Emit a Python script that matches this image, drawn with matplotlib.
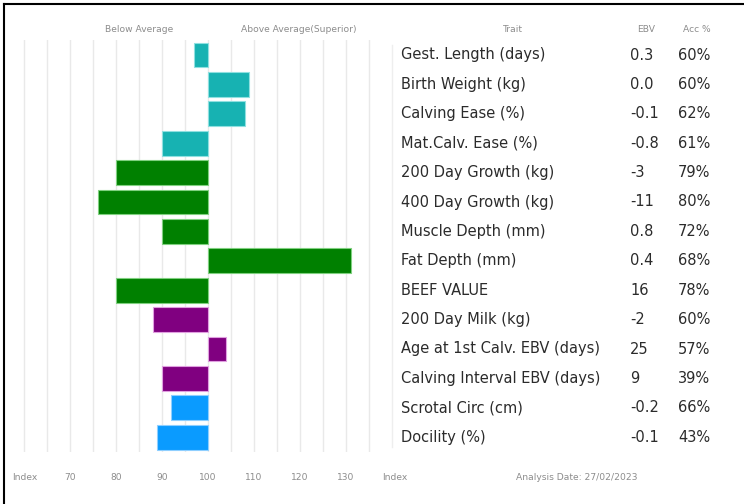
import matplotlib
matplotlib.use("Agg")
import matplotlib.pyplot as plt
from matplotlib.lines import Line2D

traits = ["Gest. Length (days)", "Birth Weight (kg)", "Calving Ease (%)", "Mat.Calv. Ease (%)",
          "200 Day Growth (kg)", "400 Day Growth (kg)", "Muscle Depth (mm)", "Fat Depth (mm)",
          "BEEF VALUE", "200 Day Milk (kg)", "Age at 1st Calv. EBV (days)",
          "Calving Interval EBV (days)", "Scrotal Circ (cm)", "Docility (%)"]
index_values = [97, 109, 108, 90, 80, 76, 90, 131, 80, 88, 104, 90, 92, 89]
ebv = ["0.3", "0.0", "-0.1", "-0.8", "-3", "-11", "0.8", "0.4", "16", "-2", "25", "9", "-0.2", "-0.1"]
acc = ["60%", "60%", "62%", "61%", "79%", "80%", "72%", "68%", "78%", "60%", "57%", "39%", "66%", "43%"]
groups = ["calving"] * 4 + ["growth"] * 5 + ["maternal"] * 3 + ["other"] * 2
group_colors = {"calving": "#17b2b2", "growth": "#008000", "maternal": "#800080", "other": "#0a9bff"}
group_edges = {"calving": "#8fe0e0", "growth": "#7fd07f", "maternal": "#e0a0e0", "other": "#8fcfff"}
tick_values = [70, 80, 90, 100, 110, 120, 130]
grid_values = list(range(60, 140, 5))

W, H = 744, 504
fig = plt.figure(figsize=(W / 100, H / 100), dpi=100)

def fx(x):
    return x / W

def fy(y):
    return 1 - y / H

# axes geometry (pixels)
xmin, xmax = 58, 137
px_per_unit = 4.6
ax_left = 208 - (100 - xmin) * px_per_unit
ax_right = 208 + (xmax - 100) * px_per_unit
row0, pitch = 55, 29.4
n = len(traits)
ax_top = row0 - pitch / 2
ax_bot = row0 + (n - 1) * pitch + pitch / 2

ax = fig.add_axes([fx(ax_left), fy(ax_bot), (ax_right - ax_left) / W, (ax_bot - ax_top) / H])
ax.set_xlim(xmin, xmax)
ax.set_ylim(n - 0.5, -0.5)
for g in grid_values:
    ax.axvline(g, color="#e9e9e9", lw=1, zorder=0)
for i, v in enumerate(index_values):
    ax.barh(i, v - 100, left=100, height=0.85, color=group_colors[groups[i]],
            edgecolor=group_edges[groups[i]], linewidth=0.8, zorder=2)
ax.set_xticks([])
ax.set_yticks([])
for s in ax.spines.values():
    s.set_visible(False)

small = dict(fontsize=6.6, color="#8c8c8c", ha="center", va="center")

# bottom index labels, placed under the data x positions
label_y = 1 - (477 - ax_top) / (ax_bot - ax_top)
for t in tick_values:
    ax.text(t, label_y, str(t), transform=ax.get_xaxis_transform(), **small)

fig.text(fx(25), fy(477), "Index", **small)
fig.text(fx(395), fy(477), "Index", **small)
fig.text(fx(577), fy(477), "Analysis Date: 27/02/2023", **small)
fig.text(fx(139), fy(30), "Below Average", **small)
fig.text(fx(299), fy(30), "Above Average(Superior)", **small)
fig.text(fx(513), fy(29), "Trait", **small)
fig.text(fx(646), fy(29), "EBV", **small)
fig.text(fx(697), fy(29), "Acc %", **small)

big = dict(fontsize=10.5, color="#2b2b2b", ha="left", va="center")
for i in range(n):
    y = row0 + i * pitch
    fig.text(fx(401), fy(y), traits[i], **big)
    fig.text(fx(630), fy(y), ebv[i], **big)
    fig.text(fx(678), fy(y), acc[i], **big)

# faint separator line
fig.add_artist(Line2D([fx(392), fx(392)], [fy(45), fy(447)], color="#eeeeee", lw=1))
# frame lines (top and left)
fig.add_artist(Line2D([fx(4), fx(W)], [fy(3.5), fy(3.5)], color="black", lw=1.5))
fig.add_artist(Line2D([fx(4), fx(4)], [fy(3.5), fy(H)], color="black", lw=1.5))

fig.savefig("out.png", dpi=100, facecolor="white")
